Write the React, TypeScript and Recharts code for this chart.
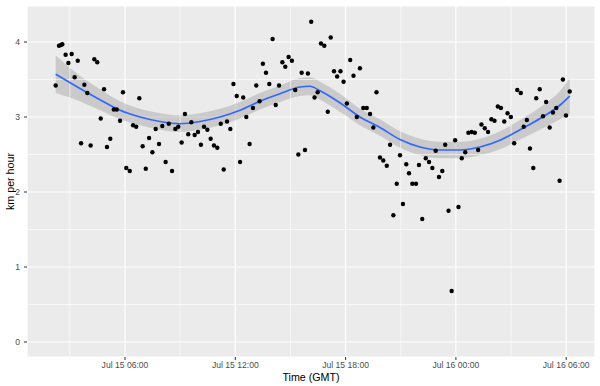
import {
  ComposedChart,
  Scatter,
  Line,
  Area,
  XAxis,
  YAxis,
  CartesianGrid,
  ReferenceLine,
  Label,
} from 'recharts';

// hours since Jul 15 00:00 GMT
const timeHours = [
  2.23, 2.41, 2.52, 2.59, 2.77, 2.92, 3.1, 3.26, 3.43, 3.61,
  3.79, 3.95, 4.13, 4.33, 4.49, 4.68, 4.86, 5.02, 5.2, 5.39,
  5.55, 5.73, 5.89, 6.07, 6.26, 6.44, 6.61, 6.78, 6.96, 7.13,
  7.31, 7.49, 7.67, 7.85, 8.03, 8.21, 8.38, 8.56, 8.74, 8.9,
  9.08, 9.26, 9.44, 9.61, 9.79, 9.97, 10.13, 10.3, 10.48, 10.66,
  10.84, 11.02, 11.21, 11.37, 11.55, 11.73, 11.9, 12.08, 12.26, 12.43,
  12.6, 12.78, 12.96, 13.14, 13.32, 13.5, 13.67, 13.85, 14.03, 14.2,
  14.38, 14.56, 14.72, 14.9, 15.08, 15.26, 15.43, 15.61, 15.79, 15.95,
  16.13, 16.31, 16.48, 16.66, 16.84, 17.03, 17.19, 17.37, 17.54, 17.72,
  17.89, 18.07, 18.25, 18.43, 18.61, 18.78, 18.96, 19.15, 19.33, 19.51,
  19.68, 19.87, 20.05, 20.24, 20.42, 20.6, 20.78, 20.96, 21.12, 21.3,
  21.45, 21.63, 21.83, 21.99, 22.17, 22.36, 22.54, 22.72, 22.9, 23.08,
  23.26, 23.42, 23.6, 23.77, 23.96, 24.14, 24.32, 24.51, 24.68, 24.86,
  25.03, 25.21, 25.39, 25.57, 25.75, 25.93, 26.1, 26.28, 26.45, 26.63,
  26.81, 26.99, 27.17, 27.34, 27.53, 27.69, 27.86, 28.03, 28.21, 28.37,
  28.56, 28.74, 28.91, 29.1, 29.28, 29.46, 29.64, 29.82, 29.99, 30.19,
];

const speedKmh = [
  3.42, 3.95, 3.96, 3.97, 3.83, 3.72, 3.84, 3.53, 3.75, 2.65,
  3.43, 3.32, 2.62, 3.77, 3.73, 2.98, 3.37, 2.6, 2.71, 3.1,
  3.1, 2.95, 3.33, 2.32, 2.28, 2.89, 2.87, 3.25, 2.61, 2.31,
  2.72, 2.53, 2.84, 2.64, 2.88, 2.4, 2.91, 2.28, 2.84, 2.87,
  2.66, 3.04, 2.77, 2.93, 2.76, 2.8, 2.63, 2.87, 2.83, 2.71,
  2.62, 2.59, 2.91, 2.3, 2.94, 2.84, 3.44, 3.28, 2.4, 3.26,
  3.0, 2.64, 3.12, 3.42, 3.21, 3.71, 3.59, 3.44, 4.04, 3.16,
  3.42, 3.73, 3.67, 3.8, 3.75, 3.36, 2.5, 3.59, 2.56, 3.58,
  4.27, 3.26, 3.33, 3.98, 3.95, 3.07, 4.06, 3.61, 3.54, 3.61,
  3.47, 3.18, 3.76, 3.55, 3.0, 3.65, 3.12, 3.12, 3.04, 2.86,
  3.33, 2.46, 2.42, 2.35, 2.63, 1.69, 2.11, 2.49, 1.84, 2.37,
  2.25, 2.11, 2.11, 2.36, 1.64, 2.45, 2.4, 2.32, 2.55, 2.2,
  2.28, 2.63, 1.75, 0.68, 2.69, 1.8, 2.45, 2.53, 2.79, 2.8,
  2.79, 2.56, 2.9, 2.85, 2.8, 2.97, 2.95, 3.14, 3.12, 2.94,
  3.05, 3.0, 2.65, 3.36, 3.32, 2.87, 2.96, 2.58, 2.32, 3.25,
  3.37, 3.01, 3.2, 2.86, 3.06, 3.12, 2.15, 3.5, 3.02, 3.34,
];

// loess fit
const smoothHours = [
  2.23, 3.55, 4.64, 5.73, 6.82, 7.9, 8.99, 10.08, 11.17, 12.26,
  13.34, 14.43, 15.52, 16.06, 16.61, 17.69, 18.78, 19.87, 20.96, 22.05,
  23.14, 24.22, 25.31, 26.4, 27.49, 28.58, 29.67, 30.19,
];
const smoothFit = [
  3.57, 3.38, 3.23, 3.09, 3.0, 2.94, 2.91, 2.94, 3.0, 3.09,
  3.21, 3.31, 3.4, 3.41, 3.35, 3.19, 3.0, 2.86, 2.7, 2.6,
  2.56, 2.56, 2.6, 2.69, 2.83, 2.98, 3.16, 3.28,
];
const smoothLow = [
  3.32, 3.21, 3.09, 2.97, 2.89, 2.83, 2.8, 2.83, 2.89, 2.98,
  3.1, 3.2, 3.28, 3.29, 3.23, 3.07, 2.89, 2.75, 2.59, 2.49,
  2.45, 2.45, 2.49, 2.57, 2.7, 2.83, 2.97, 3.04,
];
const smoothHigh = [
  3.82, 3.55, 3.37, 3.21, 3.11, 3.05, 3.02, 3.05, 3.11, 3.2,
  3.32, 3.42, 3.52, 3.53, 3.47, 3.31, 3.11, 2.97, 2.81, 2.71,
  2.67, 2.67, 2.71, 2.81, 2.96, 3.13, 3.35, 3.52,
];

const xTicks = [6, 12, 18, 24, 30];
const xTickLabels = ['Jul 15 06:00', 'Jul 15 12:00', 'Jul 15 18:00', 'Jul 16 00:00', 'Jul 16 06:00'];
const xMinor = [3, 9, 15, 21, 27];
const yTicks = [0, 1, 2, 3, 4];
const yMinor = [0.5, 1.5, 2.5, 3.5];

const points = timeHours.map((t, i) => ({ t, speed: speedKmh[i] }));
const smooth = smoothHours.map((t, i) => ({
  t,
  fit: smoothFit[i],
  band: [smoothLow[i], smoothHigh[i]],
}));

const FONT = '"Liberation Sans", Arial, sans-serif';
const tickStyle = { fill: '#4D4D4D', fontSize: 8.6, fontFamily: FONT };

const Dot = (p: any) => <circle cx={p.cx} cy={p.cy} r={2.2} fill="#000" />;

export default function App() {
  return (
    <div style={{ position: 'absolute', left: 0, top: 0, width: 600, height: 386, background: '#fff' }}>
      <ComposedChart width={600} height={386} margin={{ top: 6, right: 5, left: 0, bottom: 0 }}>
        <CartesianGrid fill="#EBEBEB" stroke="#fff" strokeWidth={1.2} />
        {xMinor.map((x) => (
          <ReferenceLine key={'x' + x} x={x} stroke="#fff" strokeWidth={0.6} />
        ))}
        {yMinor.map((y) => (
          <ReferenceLine key={'y' + y} y={y} stroke="#fff" strokeWidth={0.6} />
        ))}
        <XAxis
          type="number"
          dataKey="t"
          domain={[0.669, 31.567]}
          ticks={xTicks}
          tickFormatter={(v: number) => xTickLabels[xTicks.indexOf(v)]}
          allowDataOverflow
          height={29}
          tickSize={3}
          tickMargin={2}
          axisLine={false}
          tickLine={{ stroke: '#333' }}
          tick={tickStyle}
          interval={0}
        >
          <Label
            content={() => (
              <text x={311} y={381} textAnchor="middle" fontSize={10.7} fontFamily={FONT} fill="#000">
                Time (GMT)
              </text>
            )}
          />
        </XAxis>
        <YAxis
          type="number"
          domain={[-0.2, 4.48]}
          ticks={yTicks}
          allowDataOverflow
          width={27}
          tickSize={3}
          tickMargin={4}
          axisLine={false}
          tickLine={{ stroke: '#333' }}
          tick={tickStyle}
          interval={0}
        >
          <Label
            content={() => (
              <text
                x={14}
                y={181.5}
                transform="rotate(-90 14 181.5)"
                textAnchor="middle"
                fontSize={10.7}
                fontFamily={FONT}
                fill="#000"
              >
                km per hour
              </text>
            )}
          />
        </YAxis>
        <Scatter data={points} dataKey="speed" shape={Dot} isAnimationActive={false} />
        <Area
          data={smooth}
          dataKey="band"
          type="monotone"
          fill="#999999"
          fillOpacity={0.4}
          stroke="none"
          isAnimationActive={false}
        />
        <Line
          data={smooth}
          dataKey="fit"
          type="monotone"
          stroke="#3366FF"
          strokeWidth={1.7}
          dot={false}
          isAnimationActive={false}
        />
      </ComposedChart>
    </div>
  );
}
